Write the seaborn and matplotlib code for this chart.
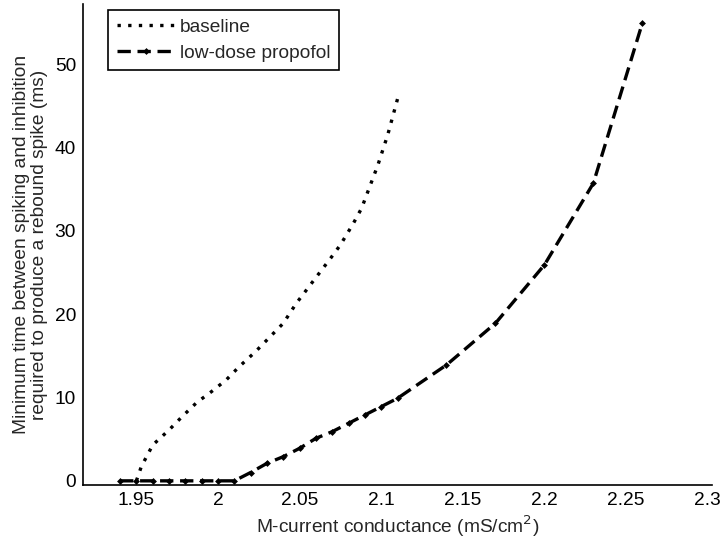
import matplotlib
matplotlib.use("Agg")
import matplotlib.pyplot as plt
import seaborn as sns
import pandas as pd

# baseline curve (dotted)
base_g = [1.950, 1.953, 1.960, 1.970, 1.978, 1.987, 1.996, 2.005, 2.013,
          2.023, 2.031, 2.040, 2.048, 2.055, 2.062, 2.069, 2.075, 2.083,
          2.088, 2.093, 2.098, 2.104, 2.110]
base_t = [0.0, 1.7, 4.3, 6.1, 7.7, 9.4, 10.7, 12.1, 13.7,
          15.5, 17.1, 18.9, 21.3, 23.1, 24.9, 26.7, 28.3, 30.9,
          32.7, 35.3, 37.9, 41.5, 45.8]

# low-dose propofol curve (dashed with markers)
prop_g = [1.94, 1.95, 1.96, 1.97, 1.98, 1.99, 2.00, 2.01, 2.02, 2.03,
          2.04, 2.05, 2.06, 2.07, 2.08, 2.09, 2.10, 2.11, 2.14, 2.17,
          2.20, 2.23, 2.26]
prop_t = [0, 0, 0, 0, 0, 0, 0, 0, 1.0, 2.1,
          2.9, 3.9, 5.1, 5.9, 6.9, 7.9, 8.9, 9.9, 13.9, 18.9,
          25.9, 35.7, 54.9]

x_ticks = [1.95, 2.0, 2.05, 2.1, 2.15, 2.2, 2.25, 2.3]
x_labels = ["1.95", "2", "2.05", "2.1", "2.15", "2.2", "2.25", "2.3"]
y_ticks = [0, 10, 20, 30, 40, 50]

sns.set_style("white")
plt.rcParams['font.family'] = ['Liberation Sans', 'DejaVu Sans']
fs = 13.8

df_base = pd.DataFrame({"g": base_g, "t": base_t})
df_prop = pd.DataFrame({"g": prop_g, "t": prop_t})

fig = plt.figure(figsize=(7.2, 5.46), dpi=100)
ax = fig.add_axes([0.1153, 0.1117, 0.8736, 0.881])

sns.lineplot(data=df_base, x="g", y="t", ax=ax, color="black", sort=False,
             linestyle=(0, (1, 2.2)), linewidth=2.4, label="baseline")
sns.lineplot(data=df_prop, x="g", y="t", ax=ax, color="black", sort=False,
             linestyle=(0, (4, 2.0)), linewidth=2.4, marker="D",
             markersize=3.5, markeredgewidth=0, label="low-dose propofol")

ax.set_xlim(1.9173, 2.3027)
ax.set_ylim(-0.5, 57.2)
ax.set_xticks(x_ticks)
ax.set_xticklabels(x_labels)
ax.set_yticks(y_ticks)
ax.tick_params(direction="in", length=5, width=1, colors="black",
               labelsize=fs, pad=5)
for side in ["top", "right"]:
    ax.spines[side].set_visible(False)
for side in ["left", "bottom"]:
    ax.spines[side].set_color("black")
    ax.spines[side].set_linewidth(1.2)

ax.set_xlabel("M-current conductance (mS/cm$^2$)", fontsize=fs, labelpad=3)
ax.set_ylabel("Minimum time between spiking and inhibition\n"
              "required to produce a rebound spike (ms)", fontsize=fs,
              labelpad=5, linespacing=1.05)

leg = ax.legend(loc="upper left", bbox_to_anchor=(0.04, 0.988),
                borderaxespad=0, fancybox=False, framealpha=1,
                edgecolor="black", fontsize=fs, handlelength=3.0,
                borderpad=0.45, labelspacing=0.45, handletextpad=0.3)
leg.get_frame().set_linewidth(1.2)

fig.savefig("out.png", dpi=100)
